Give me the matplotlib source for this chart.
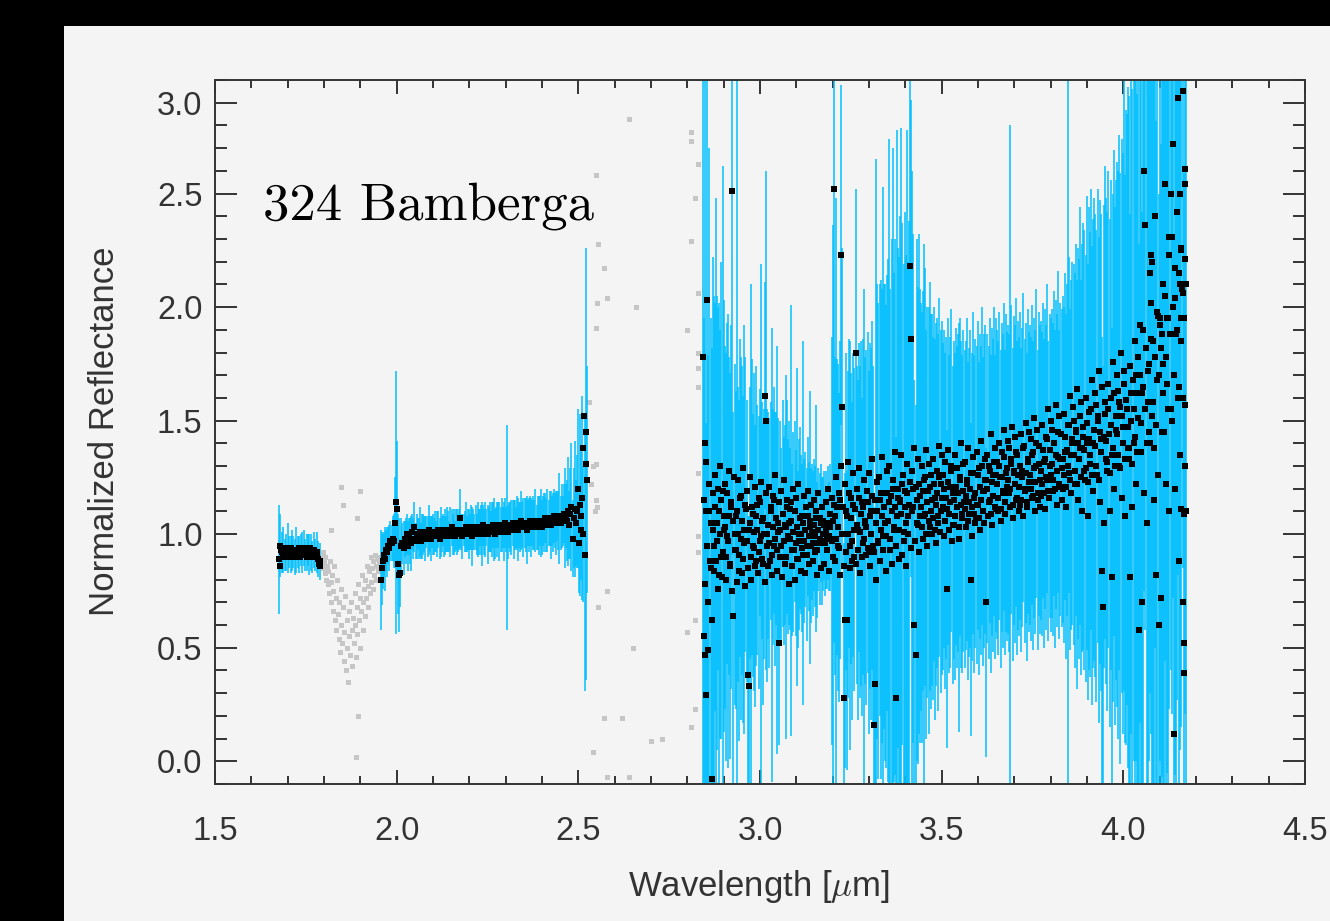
import numpy as np
import matplotlib
matplotlib.use("Agg")
import matplotlib.pyplot as plt
from matplotlib.patches import Rectangle

plt.rcParams["font.family"] = ["Liberation Sans", "DejaVu Sans"]
plt.rcParams["mathtext.fontset"] = "cm"

# ---------------- data ----------------
# segment A : 1.676 - 1.788 um
segA_start, segA_stop = 1.676, 1.788
segA_refl = [0.89, 0.95, 0.92, 0.93, 0.91, 0.92, 0.94, 0.92, 0.91, 0.93,
             0.92, 0.90, 0.93, 0.92, 0.91, 0.93, 0.92, 0.94, 0.91, 0.92,
             0.93, 0.91, 0.92, 0.90, 0.93, 0.91, 0.92, 0.89, 0.88]
segA_err = [0.24, 0.14, 0.09, 0.10, 0.07, 0.08, 0.11, 0.07, 0.08, 0.09,
            0.07, 0.08, 0.10, 0.07, 0.08, 0.07, 0.09, 0.08, 0.07, 0.08,
            0.07, 0.09, 0.08, 0.07, 0.08, 0.07, 0.09, 0.08, 0.08]
# second interleaved set in segment A
segA2_start, segA2_stop = 1.678, 1.790
segA2_refl = [0.86, 0.93, 0.90, 0.94, 0.92, 0.90, 0.93, 0.91, 0.94, 0.90,
              0.93, 0.91, 0.92, 0.94, 0.90, 0.92, 0.93, 0.91, 0.93, 0.90,
              0.92, 0.94, 0.91, 0.93, 0.90, 0.92, 0.91, 0.87, 0.86]

# excluded (telluric) points, 1.792 - 1.952 um
grayband_start, grayband_stop = 1.792, 1.952
grayband_refl = [0.90, 0.87, 0.92, 0.85, 0.88, 0.83, 0.90, 0.80, 0.86, 0.78,
                 0.84, 0.74, 0.88, 0.70, 0.79, 0.82, 0.66, 0.75, 0.86, 0.62,
                 0.72, 0.58, 0.80, 0.65, 0.54, 0.70, 0.48, 0.76, 0.60, 0.52,
                 0.68, 0.44, 0.57, 0.73, 0.40, 0.62, 0.50, 0.35, 0.66, 0.55,
                 0.47, 0.70, 0.58, 0.42, 0.63, 0.52, 0.74, 0.60, 0.46, 0.68,
                 0.56, 0.78, 0.62, 0.50, 0.72, 0.66, 0.82, 0.58, 0.70, 0.76,
                 0.64, 0.80, 0.72, 0.86, 0.68, 0.77, 0.84, 0.74, 0.90, 0.79,
                 0.85, 0.76, 0.88, 0.82, 0.91, 0.80, 0.86, 0.89, 0.84, 0.90,
                 0.87]
gray_out_wl = [1.820, 1.848, 1.853, 1.890, 1.900, 1.893, 1.888,
               2.530, 2.535, 2.540, 2.545, 2.550, 2.550, 2.552, 2.550, 2.555, 2.550, 2.552, 2.553, 2.540,
               2.570, 2.580, 2.580, 2.570, 2.580,
               2.620, 2.640, 2.640, 2.650, 2.660, 2.700, 2.730,
               2.800, 2.810, 2.820, 2.820, 2.810, 2.810, 2.810, 2.820, 2.830, 2.800,
               2.830, 2.830, 2.830, 2.830, 2.830, 2.830, 2.830]
gray_out_refl = [1.02, 1.21, 1.13, 1.07, 1.19, 0.20, 0.02,
                 1.58, 1.22, 1.30, 1.10, 1.31, 1.15, 1.12, 1.91, 2.28, 2.58, 2.02, 0.68, 0.04,
                 2.17, 2.04, 0.75, 0.19, -0.07,
                 0.19, -0.07, 2.83, 0.50, 2.00, 0.09, 0.10,
                 0.57, 0.15, 0.62, 0.23, 2.29, 2.77, 2.73, 2.48, 2.06, 1.90,
                 1.80, 1.73, 1.65, 1.27, 0.99, 0.92, 2.63]

# segment B : 1.956 - 2.523 um
segB_start, segB_stop = 1.956, 2.523
segB_refl = [0.80, 0.85, 0.88, 0.91, 0.89, 0.93, 0.92, 0.95, 0.94, 0.97,
             0.96, 0.98, 0.97, 1.05, 1.14, 1.11, 0.87, 0.82, 0.83, 0.95,
             0.96, 0.94, 0.98, 0.97, 1.00, 0.95, 0.99, 0.97, 0.96, 1.01,
             0.98, 1.03, 0.97, 0.99, 1.00, 0.98, 1.01, 0.97, 0.99, 1.00,
             1.00, 0.98, 1.01, 0.99, 1.02, 1.00, 0.98, 1.01, 1.00, 0.99,
             1.01, 0.99, 1.00, 1.02, 0.98, 1.01, 1.00, 1.02, 0.99, 1.01,
             1.00, 1.02, 1.01, 0.99, 1.01, 1.03, 1.00, 1.01, 0.99, 1.02,
             1.01, 1.00, 1.02, 1.07, 1.01, 0.99, 1.02, 1.01, 1.03, 1.00,
             1.02, 1.00, 1.01, 1.03, 0.99, 1.02, 1.01, 1.03, 1.00, 1.02,
             1.01, 1.03, 1.02, 1.00, 1.04, 1.01, 1.02, 1.03, 1.00, 1.02,
             1.03, 1.01, 1.02, 1.04, 1.02, 1.00, 1.03, 1.02, 1.04, 1.01,
             1.02, 1.04, 1.03, 1.01, 1.05, 1.02, 1.03, 1.01, 1.04, 1.03,
             1.03, 1.05, 1.02, 1.04, 1.03, 1.05, 1.02, 1.04, 1.03, 1.06,
             1.04, 1.03, 1.05, 1.04, 1.02, 1.05, 1.04, 1.06, 1.03, 1.05,
             1.05, 1.04, 1.06, 1.03, 1.05, 1.04, 1.06, 1.05, 1.03, 1.06,
             1.05, 1.07, 1.04, 1.06, 1.05, 1.07, 1.04, 1.06, 1.05, 1.08,
             1.06, 1.05, 1.08, 1.06, 1.07, 1.05, 1.08, 1.06, 1.09, 1.07,
             1.08, 1.06, 1.10, 1.04, 1.09, 1.12, 0.98, 1.07, 1.11, 1.05,
             1.10, 1.20, 0.96, 1.13, 1.08, 1.16, 1.00, 0.91, 1.31, 1.24]
segB_err = [0.22, 0.16, 0.12, 0.10, 0.14, 0.09, 0.11, 0.08, 0.10, 0.09,
            0.08, 0.10, 0.12, 0.20, 0.58, 0.30, 0.22, 0.25, 0.15, 0.12,
            0.09, 0.12, 0.08, 0.10, 0.09, 0.11, 0.08, 0.10, 0.12, 0.08,
            0.09, 0.11, 0.08, 0.10, 0.07, 0.09, 0.11, 0.08, 0.10, 0.09,
            0.08, 0.10, 0.07, 0.09, 0.11, 0.08, 0.10, 0.07, 0.09, 0.08,
            0.09, 0.07, 0.10, 0.08, 0.09, 0.11, 0.08, 0.07, 0.09, 0.10,
            0.08, 0.10, 0.09, 0.07, 0.11, 0.08, 0.09, 0.10, 0.07, 0.09,
            0.10, 0.08, 0.09, 0.13, 0.08, 0.10, 0.07, 0.09, 0.11, 0.08,
            0.09, 0.11, 0.08, 0.10, 0.13, 0.09, 0.08, 0.10, 0.09, 0.12,
            0.10, 0.08, 0.11, 0.14, 0.09, 0.10, 0.12, 0.08, 0.13, 0.10,
            0.11, 0.09, 0.12, 0.10, 0.14, 0.11, 0.09, 0.12, 0.10, 0.13,
            0.10, 0.12, 0.09, 0.13, 0.11, 0.10, 0.45, 0.12, 0.10, 0.11,
            0.12, 0.10, 0.13, 0.11, 0.09, 0.12, 0.14, 0.10, 0.11, 0.13,
            0.10, 0.13, 0.11, 0.12, 0.15, 0.10, 0.12, 0.11, 0.13, 0.10,
            0.12, 0.11, 0.14, 0.10, 0.12, 0.13, 0.11, 0.15, 0.12, 0.11,
            0.13, 0.11, 0.12, 0.14, 0.10, 0.12, 0.15, 0.11, 0.13, 0.12,
            0.12, 0.14, 0.11, 0.13, 0.20, 0.12, 0.14, 0.11, 0.13, 0.22,
            0.14, 0.18, 0.24, 0.15, 0.20, 0.28, 0.17, 0.22, 0.30, 0.19,
            0.25, 0.35, 0.22, 0.40, 0.28, 0.45, 0.30, 0.60, 0.95, 0.50]

# segment C : 2.843 - 4.172 um
segC_start, segC_stop = 2.843, 4.172
segC_refl = [
    1.78, 0.55, 1.40, 0.29, 2.03, 0.49, 1.10, 0.85, -0.08, 1.02,
    0.95, 1.12, 0.88, 1.05, 1.20, 0.82, 1.00, 1.15, 0.92, 1.08,
    1.03, 0.90, 1.18, 0.97, 1.08, 0.86, 1.12, 2.51, 0.64, 1.00,
    0.93, 1.10, 1.00, 0.84, 1.16, 0.98, 1.06, 0.89, 1.02, 1.13,
    0.97, 0.38, 0.33, 1.05, 0.90, 1.12, 0.95, 1.01, 0.86, 1.08,
    1.02, 0.92, 1.14, 0.99, 1.06, 0.87, 1.00, 1.61, 1.50, 0.95,
    1.04, 0.96, 1.10, 0.91, 1.03, 1.15, 0.98, 1.07, 0.93, 1.01,
    0.52, 1.02, 0.95, 1.09, 0.97, 1.04, 0.90, 1.12, 0.99, 1.05,
    0.98, 1.06, 0.93, 1.01, 1.10, 0.96, 1.03, 0.89, 1.00, 1.07,
    1.00, 0.94, 1.05, 0.97, 1.02, 0.91, 1.08, 0.99, 1.03, 0.95,
    1.01, 0.96, 1.04, 0.99, 1.07, 0.93, 1.02, 0.98, 1.05, 0.97,
    1.00, 1.04, 0.96, 1.02, 0.98, 1.05, 0.99, 1.03, 0.97, 1.06,
    2.52, 1.08, 0.98, 1.12, 1.03, 0.94, 1.15, 2.23, 1.56, 0.28,
    0.62, 1.10, 0.62, 1.00, 1.18, 0.95, 1.07, 0.88, 1.13, 1.02,
    1.80, 1.04, 0.93, 1.16, 1.01, 1.09, 0.90, 1.12, 0.98, 1.06,
    1.03, 1.14, 0.92, 1.08, 1.00, 1.17, 0.95, 0.16, 0.34, 1.05,
    1.10, 0.97, 1.15, 1.02, 1.08, 0.93, 1.12, 1.05, 0.99, 1.18,
    1.06, 1.14, 0.98, 1.10, 1.20, 1.03, 1.12, 0.28, 1.08, 1.16,
    1.02, 1.15, 1.09, 1.22, 0.97, 1.12, 1.05, 1.18, 1.00, 1.13,
    2.18, 1.86, 1.10, 1.20, 0.60, 0.47, 1.15, 1.04, 1.22, 1.08,
    1.12, 1.03, 1.19, 1.08, 1.25, 1.00, 1.14, 1.06, 1.21, 1.10,
    1.15, 1.07, 1.22, 1.02, 1.13, 1.18, 1.05, 1.25, 1.10, 1.16,
    1.12, 1.20, 1.06, 1.16, 0.76, 1.23, 1.09, 1.14, 1.28, 1.04,
    1.15, 1.08, 1.21, 1.12, 1.18, 1.03, 1.25, 1.13, 1.09, 1.19,
    1.11, 1.17, 1.24, 1.06, 1.14, 1.20, 0.80, 1.12, 1.27, 1.09,
    1.18, 1.13, 1.26, 1.07, 1.21, 1.15, 1.30, 1.10, 1.19, 1.24,
    0.70, 1.20, 1.14, 1.28, 1.09, 1.23, 1.17, 1.32, 1.12, 1.26,
    1.22, 1.16, 1.30, 1.11, 1.25, 1.19, 1.34, 1.14, 1.27, 1.21,
    1.24, 1.18, 1.20, 1.33, 1.13, 1.28, 1.22, 1.36, 1.16, 1.26,
    1.21, 1.30, 1.15, 1.25, 1.38, 1.19, 1.27, 1.12, 1.32, 1.23,
    1.26, 1.20, 1.35, 1.17, 1.29, 1.23, 1.40, 1.15, 1.31, 1.24,
    1.28, 1.22, 1.37, 1.18, 1.33, 1.25, 1.42, 1.19, 1.30, 1.26,
    1.31, 1.24, 1.40, 1.20, 1.35, 1.28, 1.45, 1.22, 1.33, 1.29,
    1.33, 1.26, 1.43, 1.21, 1.37, 1.30, 1.48, 1.24, 1.35, 1.40,
    1.35, 1.28, 1.46, 1.22, 1.40, 1.33, 1.52, 1.25, 1.38, 1.43,
    1.37, 1.29, 1.49, 1.23, 1.42, 1.35, 1.55, 1.26, 1.40, 1.46,
    1.39, 1.30, 1.52, 1.24, 1.45, 1.36, 0.84, 0.68, 1.43, 1.58,
    1.41, 1.32, 1.55, 1.27, 1.48, 0.81, 1.38, 1.62, 1.30, 1.46,
    1.44, 1.35, 1.58, 1.29, 1.52, 1.40, 1.66, 1.33, 1.47, 1.55,
    1.47, 1.38, 0.81, 1.62, 1.31, 1.55, 1.43, 1.70, 1.36, 1.51,
    0.58, 1.92, 1.49, 0.70, 1.65, 2.60, 2.36, 1.40, 1.58, 1.75,
    2.15, 2.02, 1.52, 1.85, 1.38, 2.40, 0.82, 1.68, 0.60, 1.95,
    0.72, 1.88, 1.62, 1.45, 2.54, 1.78, 1.95, 1.55, 2.23, 2.50,
    2.31, 2.72, 0.12, 2.04, 1.88, 2.42, 2.92, 1.65, 2.10, 2.25,
    2.95, 0.39, 2.21, 1.10]
segC_err = [
    2.0, 1.4, 1.7, 1.2, 2.2, 1.3, 1.6, 1.1, 1.9, 1.2,
    1.1, 0.9, 1.6, 1.0, 0.8, 1.2, 0.9, 1.05, 1.7, 0.95,
    0.8, 0.9, 0.75, 1.0, 0.7, 0.85, 0.8, 1.6, 0.9, 0.75,
    0.7, 1.9, 0.65, 0.75, 0.7, 0.8, 0.68, 0.72, 0.9, 0.65,
    0.62, 0.7, 0.75, 0.6, 1.2, 0.65, 0.58, 0.7, 0.62, 0.66,
    0.55, 0.6, 0.5, 1.2, 0.52, 0.62, 0.55, 0.5, 1.1, 0.6,
    0.5, 0.55, 0.48, 1.0, 0.52, 0.5, 0.56, 0.47, 0.9, 0.5,
    0.45, 0.48, 0.43, 0.5, 0.46, 0.44, 0.8, 0.47, 0.43, 0.45,
    0.4, 0.95, 0.38, 0.44, 0.4, 0.41, 0.7, 0.39, 0.42, 0.4,
    0.35, 0.37, 0.8, 0.36, 0.34, 0.38, 0.35, 0.33, 0.6, 0.34,
    0.3, 0.32, 0.29, 0.31, 0.5, 0.3, 0.27, 0.29, 0.26, 0.28,
    0.25, 0.24, 0.23, 0.26, 0.22, 0.25, 0.24, 0.28, 0.9, 1.3,
    2.0, 0.7, 1.5, 0.65, 0.72, 0.68, 0.7, 0.75, 0.7, 0.68,
    0.65, 0.7, 0.66, 0.72, 0.68, 0.9, 0.64, 0.7, 0.67, 0.71,
    0.72, 0.7, 0.75, 0.68, 0.73, 0.76, 0.7, 0.74, 1.1, 0.72,
    0.78, 0.75, 0.8, 0.76, 0.82, 0.77, 0.79, 0.8, 0.78, 1.6,
    1.0, 1.05, 0.95, 1.1, 1.0, 1.6, 0.98, 1.05, 1.02, 0.96,
    1.15, 1.6, 1.1, 1.2, 1.5, 1.12, 1.18, 1.15, 1.7, 1.1,
    1.2, 1.25, 1.7, 1.15, 1.22, 1.3, 1.18, 1.6, 1.2, 1.25,
    1.1, 1.05, 1.5, 1.12, 1.08, 1.1, 1.15, 1.05, 1.1, 1.0,
    0.9, 0.95, 0.88, 1.2, 0.92, 0.9, 0.86, 0.94, 0.9, 0.87,
    0.82, 0.8, 0.78, 0.84, 0.8, 0.77, 0.83, 0.79, 0.8, 0.78,
    0.72, 0.7, 0.74, 0.71, 0.7, 0.72, 0.7, 0.73, 0.71, 0.7,
    0.7, 0.72, 0.7, 0.71, 0.7, 0.9, 0.7, 0.72, 0.7, 0.71,
    0.7, 0.68, 0.71, 0.7, 0.68, 0.7, 0.69, 0.68, 0.71, 0.7,
    0.68, 0.7, 0.68, 0.69, 0.67, 0.68, 0.7, 0.68, 0.69, 0.68,
    0.68, 0.68, 0.69, 0.67, 0.7, 0.68, 0.69, 0.68, 0.67, 0.69,
    0.68, 0.69, 0.68, 0.7, 0.68, 0.69, 0.68, 0.67, 0.7, 0.68,
    0.68, 0.7, 1.6, 0.68, 0.69, 0.68, 0.7, 0.68, 0.69, 0.68,
    0.66, 0.68, 0.67, 0.66, 0.68, 0.67, 0.66, 0.68, 0.67, 0.66,
    0.66, 0.67, 0.66, 0.68, 0.66, 0.67, 0.68, 0.66, 0.67, 0.68,
    0.66, 0.67, 0.65, 0.68, 0.66, 0.67, 0.68, 0.66, 0.67, 0.69,
    0.68, 0.69, 0.67, 0.7, 0.68, 0.69, 0.71, 0.68, 0.69, 0.7,
    0.72, 0.74, 0.72, 0.76, 0.73, 1.7, 0.74, 0.75, 0.77, 0.8,
    0.84, 0.87, 0.82, 0.9, 0.86, 0.88, 0.92, 0.87, 0.9, 0.94,
    0.97, 0.94, 1.0, 0.96, 1.02, 0.98, 0.97, 1.01, 0.99, 1.02,
    1.02, 1.04, 1.0, 1.07, 1.02, 1.05, 1.03, 1.06, 1.02, 1.04,
    1.07, 1.1, 1.05, 1.12, 1.08, 1.1, 1.12, 1.07, 1.14, 1.1,
    1.2, 1.25, 1.18, 1.3, 1.22, 1.28, 1.35, 1.25, 1.4, 1.3,
    1.5, 1.55, 1.6, 1.5, 1.65, 1.55, 1.6, 1.7, 1.58, 1.62,
    1.7, 1.75, 1.8, 1.72, 1.8, 1.85, 1.78, 1.8, 1.9, 1.75,
    1.85, 1.9, 1.8, 1.95, 1.85, 1.9, 2.0, 1.85, 1.9, 1.95,
    2.0, 1.95, 2.05, 2.0, 2.1, 1.95, 2.0, 2.05, 2.0, 2.1,
    2.1, 2.0, 2.2, 2.1, 2.0, 2.15, 2.1, 2.2, 2.05, 2.1,
    2.1, 2.2, 2.0, 2.2]

# second, interleaved set of points in segment C (2.8445 - 4.1735 um)
segC2_start, segC2_stop = 2.8445, 4.1735
segC2_refl = [
    1.15, 0.78, 1.32, 0.95, 0.70, 1.22, 0.88, 1.05, 0.62, 1.18,
    0.84, 1.26, 0.97, 0.76, 1.10, 1.30, 0.90, 0.81, 1.19, 1.02,
    1.22, 0.80, 0.99, 1.28, 0.87, 1.14, 0.75, 1.06, 1.25, 0.93,
    1.08, 0.79, 1.24, 0.91, 1.17, 0.83, 1.29, 0.96, 0.77, 1.11,
    1.19, 0.85, 1.02, 1.25, 0.80, 1.09, 0.94, 1.21, 0.88, 1.13,
    0.83, 1.16, 0.97, 1.23, 0.89, 1.07, 0.79, 1.18, 1.00, 0.86,
    1.21, 0.88, 1.12, 0.82, 1.17, 0.95, 1.26, 0.84, 1.05, 1.14,
    0.90, 1.19, 0.81, 1.09, 1.24, 0.87, 1.03, 1.15, 0.78, 1.11,
    1.14, 0.86, 1.20, 0.93, 0.80, 1.16, 0.89, 1.22, 0.97, 0.84,
    1.08, 0.91, 1.17, 0.83, 1.12, 0.95, 1.19, 0.87, 1.06, 1.13,
    0.88, 1.15, 0.92, 1.10, 0.82, 1.18, 0.96, 1.07, 0.85, 1.12,
    1.06, 0.87, 1.14, 0.93, 1.20, 0.84, 1.09, 0.98, 1.16, 0.90,
    1.13, 0.88, 1.25, 0.95, 1.18, 0.82, 1.30, 1.00, 1.12, 0.86,
    1.22, 0.92, 1.08, 1.32, 0.85, 1.16, 0.97, 1.27, 0.90, 1.11,
    0.87, 1.20, 1.02, 1.29, 0.83, 1.14, 0.96, 1.24, 1.05, 0.91,
    1.19, 0.94, 1.27, 0.86, 1.10, 1.33, 0.92, 1.15, 0.80, 1.23,
    0.96, 1.25, 0.88, 1.18, 1.34, 0.99, 1.12, 0.84, 1.28, 1.06,
    1.30, 0.93, 1.17, 0.87, 1.24, 1.02, 1.36, 0.95, 1.20, 0.89,
    1.14, 1.35, 0.91, 1.26, 1.01, 1.19, 0.86, 1.31, 1.08, 1.23,
    0.94, 1.28, 1.12, 1.38, 0.97, 1.21, 1.05, 1.33, 0.92, 1.17,
    1.30, 0.98, 1.24, 1.09, 1.37, 0.95, 1.19, 1.31, 1.03, 1.26,
    1.00, 1.33, 1.16, 0.96, 1.28, 1.08, 1.39, 1.01, 1.22, 1.35,
    1.26, 0.99, 1.32, 1.11, 1.37, 1.02, 1.21, 1.30, 0.97, 1.18,
    1.04, 1.35, 1.19, 1.29, 0.98, 1.24, 1.40, 1.07, 1.31, 1.14,
    1.32, 1.03, 1.22, 1.38, 1.09, 1.27, 0.99, 1.34, 1.16, 1.05,
    1.07, 1.36, 1.13, 1.29, 1.02, 1.41, 1.19, 1.05, 1.33, 1.24,
    1.35, 1.08, 1.30, 1.15, 1.44, 1.04, 1.26, 1.38, 1.11, 1.32,
    1.10, 1.40, 1.25, 1.06, 1.36, 1.18, 1.46, 1.09, 1.29, 1.41,
    1.38, 1.12, 1.31, 1.47, 1.07, 1.27, 1.43, 1.15, 1.35, 1.10,
    1.13, 1.44, 1.28, 1.08, 1.39, 1.20, 1.49, 1.14, 1.33, 1.45,
    1.42, 1.16, 1.36, 1.51, 1.10, 1.30, 1.46, 1.18, 1.39, 1.12,
    1.17, 1.48, 1.32, 1.11, 1.43, 1.24, 1.55, 1.16, 1.37, 1.50,
    1.46, 1.19, 1.40, 1.57, 1.13, 1.34, 1.52, 1.21, 1.44, 1.15,
    1.20, 1.53, 1.36, 1.12, 1.48, 1.27, 1.61, 1.18, 1.42, 1.56,
    1.50, 1.22, 1.45, 1.64, 1.15, 1.38, 1.58, 1.10, 1.47, 1.28,
    1.24, 1.60, 1.40, 1.08, 1.54, 1.31, 1.68, 1.19, 1.46, 1.62,
    1.57, 1.26, 1.50, 1.72, 1.14, 1.42, 1.65, 1.05, 1.53, 1.33,
    1.28, 1.66, 1.44, 1.10, 1.60, 1.35, 1.76, 1.20, 1.52, 1.70,
    1.63, 1.30, 1.56, 1.80, 1.16, 1.47, 1.72, 1.08, 1.59, 1.38,
    1.33, 1.74, 1.50, 1.12, 1.68, 1.40, 1.85, 1.22, 1.62, 1.78,
    1.70, 1.36, 1.62, 1.90, 1.18, 1.55, 1.82, 1.05, 1.72, 1.45,
    1.40, 1.86, 1.58, 1.15, 1.78, 1.48, 1.98, 1.26, 1.70, 1.92,
    1.82, 1.45, 1.75, 2.05, 1.22, 1.66, 1.95, 1.10, 1.88, 1.55,
    1.50, 2.00, 1.70, 1.20, 1.90, 1.60, 2.15, 1.35, 1.85, 2.08,
    1.60, 1.95, 1.30, 2.10]

# additional individual black points
extra_wl = [2.508, 2.513, 2.516, 2.520, 2.848, 2.852, 4.143, 4.152, 4.155, 4.158,
            4.158, 4.160, 4.164, 4.165, 4.166, 4.168, 4.170, 4.170, 4.170, 4.110,
            4.080, 4.095, 4.075, 4.125]
extra_refl = [1.02, 1.38, 1.52, 1.45, 0.47, 1.10, 2.17, 0.88, 2.50, 1.11,
              1.95, 2.26, 0.70, 2.06, 0.52, 1.09, 2.61, 2.54, 1.57, 2.10,
              2.20, 1.96, 2.23, 2.31]

xtick_vals = [1.5, 2.0, 2.5, 3.0, 3.5, 4.0, 4.5]
xtick_labels = ["1.5", "2.0", "2.5", "3.0", "3.5", "4.0", "4.5"]
ytick_vals = [0.0, 0.5, 1.0, 1.5, 2.0, 2.5, 2.9]
ytick_labels = ["0.0", "0.5", "1.0", "1.5", "2.0", "2.5", "3.0"]

# ---------------- build ----------------
def grid(a, b, vals):
    return np.linspace(a, b, len(vals))

xA = grid(segA_start, segA_stop, segA_refl)
xA2 = grid(segA2_start, segA2_stop, segA2_refl)
xG = grid(grayband_start, grayband_stop, grayband_refl)
xB = grid(segB_start, segB_stop, segB_refl)
xC = grid(segC_start, segC_stop, segC_refl)
xC2 = grid(segC2_start, segC2_stop, segC2_refl)

W, H = 1330, 921
fig = plt.figure(figsize=(W / 100, H / 100), dpi=100, facecolor="black")
fig.add_artist(Rectangle((64 / W, 0), 1, (H - 26) / H, transform=fig.transFigure,
                         facecolor="#f4f4f4", edgecolor="none", zorder=-10))
ax = fig.add_axes([215 / W, (H - 784) / H, 1090 / W, 704 / H])
ax.set_facecolor("#f4f4f4")

blue = "#00bfff"
gray = "#c6c6c6"

ax.plot(np.concatenate([xG, gray_out_wl]), np.concatenate([grayband_refl, gray_out_refl]),
        "s", color=gray, ms=3.6, mew=0, zorder=1)

for x, y, e in [(xA, segA_refl, segA_err), (xB, segB_refl, segB_err), (xC, segC_refl, segC_err)]:
    y = np.asarray(y); e = np.asarray(e)
    ax.vlines(x, y - e, y + e, color=blue, lw=1.1, zorder=2)

allx = np.concatenate([xA, xA2, xB, xC, xC2, extra_wl])
ally = np.concatenate([segA_refl, segA2_refl, segB_refl, segC_refl, segC2_refl, extra_refl])
ax.plot(allx, ally, "s", color="black", ms=3.8, mew=0, zorder=3)

ax.set_xlim(1.5, 4.5)
ax.set_ylim(-0.1, 3.0)

ax.set_xticks(xtick_vals)
ax.set_xticklabels(xtick_labels)
ax.set_xticks([v for v in np.round(np.arange(1.5, 4.5001, 0.1), 2) if v not in xtick_vals], minor=True)
ax.set_yticks(ytick_vals)
ax.set_yticklabels(ytick_labels)
ax.set_yticks([v for v in np.round(np.arange(-0.1, 3.0001, 0.1), 2) if v not in ytick_vals], minor=True)

spine_c = "#333333"
for s in ax.spines.values():
    s.set_color(spine_c)
    s.set_linewidth(1.4)

ax.tick_params(axis="x", which="major", direction="in", length=10, width=1.4, top=True,
               pad=23, labelsize=23.5, color=spine_c, labelcolor="#333333")
ax.tick_params(axis="x", which="minor", direction="in", length=5.5, width=1.4, top=True, color=spine_c)
ax.tick_params(axis="y", which="major", direction="in", length=16, width=1.4, right=True,
               pad=9, labelsize=23.5, color=spine_c, labelcolor="#333333")
ax.tick_params(axis="y", which="minor", direction="in", length=8.5, width=1.4, right=True, color=spine_c)

fig.text(759 / W, 1 - 886 / H, r"Wavelength [$\mu$m]", ha="center", va="center",
         fontsize=25, color="#333333")
fig.text(105 / W, 1 - 431 / H, "Normalized Reflectance", ha="center", va="center",
         rotation=90, fontsize=25, color="#333333")

ax.text(1.632, 2.385, "324 Bamberga", fontfamily="cmr10", fontsize=38, color="black",
        va="baseline", ha="left", zorder=5)

fig.savefig("out.png", dpi=100, facecolor=fig.get_facecolor())
